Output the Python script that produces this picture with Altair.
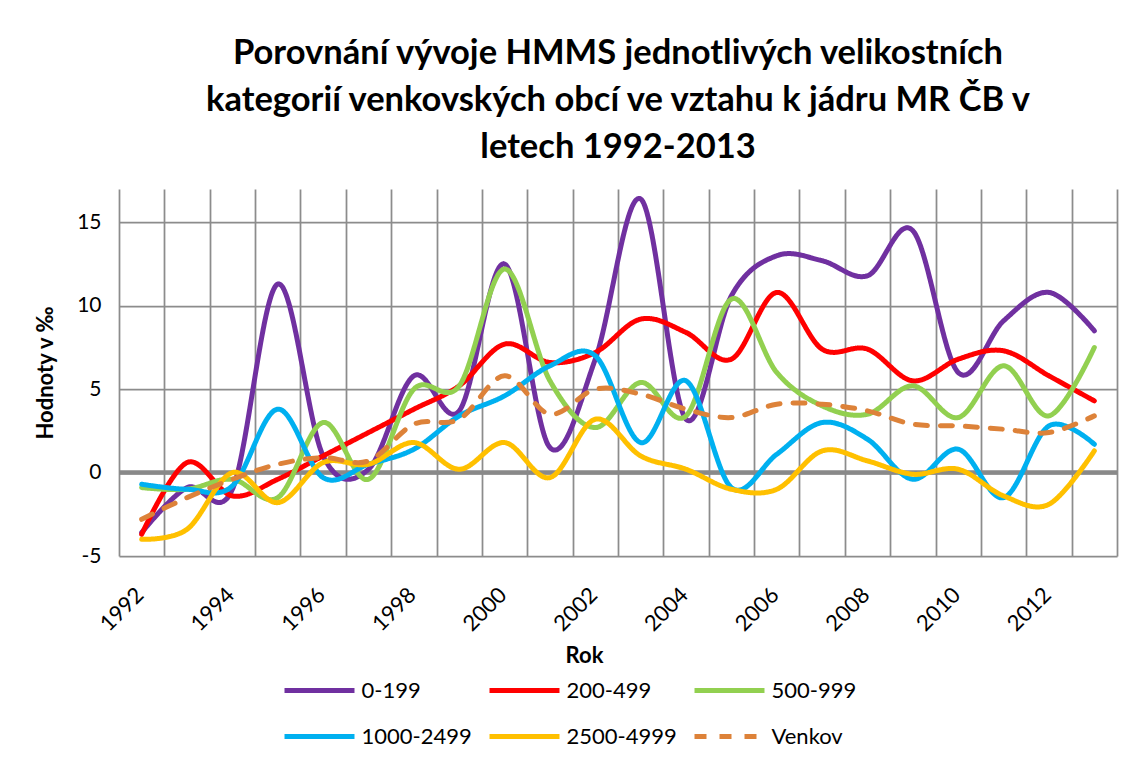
import altair as alt
import pandas as pd

years = [str(y) for y in range(1992, 2014)]
series_names = ["0-199", "200-499", "500-999", "1000-2499", "2500-4999", "Venkov"]

s_0_199 = [-3.6, -0.9, -1.0, 11.3, 1.0, 0.2, 5.8, 3.7, 12.5, 1.5, 6.8, 16.4,
           3.2, 10.6, 13.0, 12.7, 11.8, 14.5, 6.0, 9.1, 10.8, 8.5]
s_200_499 = [-3.7, 0.6, -1.4, -0.4, 1.0, 2.4, 3.8, 5.2, 7.7, 6.6, 7.2, 9.2,
             8.4, 6.8, 10.8, 7.4, 7.4, 5.5, 6.8, 7.3, 5.8, 4.3]
s_500_999 = [-0.9, -1.0, -0.4, -1.5, 3.0, -0.4, 5.0, 5.2, 12.2, 5.5, 2.7, 5.4,
             3.4, 10.4, 6.0, 4.0, 3.5, 5.2, 3.3, 6.4, 3.4, 7.5]
s_1000_2499 = [-0.7, -1.0, -0.8, 3.8, -0.3, 0.5, 1.4, 3.4, 4.6, 6.4, 7.0, 1.8,
               5.5, -0.9, 1.1, 3.0, 2.0, -0.4, 1.4, -1.5, 2.8, 1.7]
s_2500_4999 = [-4.0, -3.4, 0.0, -1.8, 0.6, 0.5, 1.8, 0.2, 1.8, -0.3, 3.2, 1.0,
               0.2, -1.0, -1.0, 1.3, 0.7, -0.1, 0.2, -1.4, -1.9, 1.3]
s_venkov = [-2.8, -1.5, -0.4, 0.5, 0.9, 0.7, 2.9, 3.2, 5.8, 3.5, 5.0, 4.7,
            3.8, 3.3, 4.1, 4.1, 3.7, 2.9, 2.8, 2.6, 2.4, 3.4]

colors = ["#7030A0", "#FF0000", "#92D050", "#00B0F0", "#FFC000", "#DD8239"]
dashes = [[1, 0], [1, 0], [1, 0], [1, 0], [1, 0], [12, 13]]
zero_line = [0]
y_ticks = [-5, 0, 5, 10, 15]

title_lines = ["Porovnání vývoje HMMS jednotlivých velikostních",
               "kategorií venkovských obcí ve vztahu k jádru MR ČB v",
               "letech 1992-2013"]

rows = []
for name, vals in zip(series_names, [s_0_199, s_200_499, s_500_999,
                                     s_1000_2499, s_2500_4999, s_venkov]):
    for yr, v in zip(years, vals):
        rows.append({"Rok": yr, "series": name, "value": v})
df = pd.DataFrame(rows)

x_enc = alt.X(
    "Rok:O",
    scale=alt.Scale(type="band", paddingInner=0, paddingOuter=0, domain=years),
    axis=alt.Axis(
        title="Rok", grid=True, tickBand="extent", ticks=False, domain=False,
        labelExpr="toNumber(datum.value) % 2 == 0 ? datum.value : ''",
        labelAngle=315, labelAlign="right", labelBaseline="middle",
        labelFontSize=22, labelPadding=35, labelOffset=-2,
        titleFontSize=22, titleFontWeight="bold", titleX=465, titleY=99,
        titleBaseline="middle", labelOverlap=False,
    ),
)
y_enc = alt.Y(
    "value:Q",
    scale=alt.Scale(domain=[-5, 17], nice=False, zero=False),
    axis=alt.Axis(
        title="Hodnoty v ‰", values=y_ticks, grid=True, ticks=False, domain=False,
        labelExpr="'' + datum.value", labelFontSize=21, labelPadding=18,
        titleFontSize=22, titleFontWeight="bold", titleX=-74, titleY=183.5,
        titleAlign="center", titleBaseline="middle", titleAngle=270,
    ),
)

legend = alt.Legend(
    title=None, orient="none", legendX=180.5, legendY=481.5, direction="horizontal",
    columns=3, symbolType="M-2,0H2", symbolSize=1225, symbolStrokeWidth=5,
    labelFontSize=22, labelOffset=22, columnPadding=7, rowPadding=15,
    labelColor="black", labelFont="Lato",
)

zero = alt.Chart(pd.DataFrame({"value": zero_line})).mark_rule(
    color="#898989", strokeWidth=4.5
).encode(y=y_enc)

base = alt.Chart(df).mark_line(
    interpolate="cardinal", tension=0, strokeWidth=5, strokeCap="round",
    strokeJoin="round"
).encode(
    x=x_enc,
    y=y_enc,
    color=alt.Color("series:N", scale=alt.Scale(domain=series_names, range=colors),
                    legend=legend),
    strokeDash=alt.StrokeDash("series:N",
                              scale=alt.Scale(domain=series_names, range=dashes),
                              legend=legend),
)

layers = [zero] + [base.transform_filter(alt.datum.series == s) for s in series_names]

chart = alt.layer(*layers).properties(
    width=998, height=367,
    autosize=alt.AutoSizeParams(type="none"),
    padding={"left": 111, "top": 181, "right": 12, "bottom": 195},
    title=alt.TitleParams(text=title_lines, fontSize=34.5, fontWeight="bold",
                          font="Lato", lineHeight=47, anchor="middle",
                          offset=24, color="black"),
    background="white",
).configure_view(stroke=None).configure_axis(
    gridColor="#8C8C8C", gridWidth=1.75, gridOpacity=1, labelFont="Lato",
    titleFont="Lato", labelColor="black", titleColor="black",
)

chart.save("out.html", embed_options={"renderer": "svg", "actions": False})
